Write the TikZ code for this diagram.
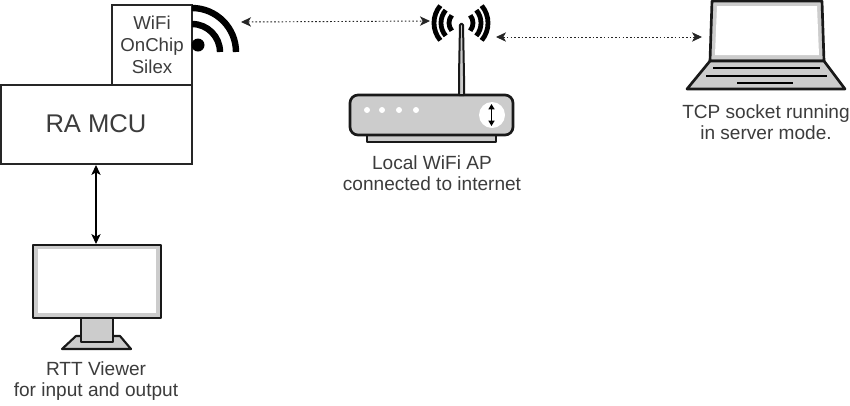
\documentclass[tikz,border=0pt]{standalone}
\usepackage{fontspec}
\setmainfont{Liberation Sans}
\usetikzlibrary{arrows.meta}
\definecolor{txt}{HTML}{3C3C3C}
\definecolor{icongray}{HTML}{CCCCCC}
\tikzset{
  x=0.75pt,y=-0.75pt,
  box/.style={draw=black!85,line width=1.2pt,fill=white,inner sep=0,minimum width=#1,text=txt},
  lab/.style={text=txt,align=center,inner sep=0,font=\fontsize{14.3}{16}\selectfont},
  icon/.style={draw=black!90,line width=2pt,line join=round},
  tip/.style={{Stealth[length=7.5pt,width=7pt,inset=2pt]}-{Stealth[length=7.5pt,width=7pt,inset=2pt]}},
  link/.style={tip,draw=black!85,line width=0.7pt,dash pattern=on 1.2pt off 1.6pt},
  solidlink/.style={tip,draw=black,line width=0.8pt},
  wave/.style={line width=4.8pt,draw=black,line cap=butt},
  ripple/.style={line width=3.6pt,draw=black,line cap=butt}
}
\begin{document}
\begin{tikzpicture}
\useasboundingbox (0,0) rectangle (850,405);
\fill[white] (0,0) rectangle (850,405);
% boards
\draw[box] (112,5) rectangle (192,85);
\node[lab,font=\fontsize{14}{16.5}\selectfont] (chip) at (152,45) {WiFi\\OnChip\\Silex};
\draw[box] (1,85) rectangle (192,164);
\node[lab,font=\fontsize{19.2}{22}\selectfont] (mcutext) at (96,124) {RA MCU};
\coordinate (mcuS) at (96,165);
% wifi icon
\fill (198,45) circle[radius=6.5*0.75pt];
\draw[wave] (192,8) arc[start angle=-90,end angle=0,radius=44];
\draw[wave] (192,24) arc[start angle=-90,end angle=0,radius=28];
\coordinate (wifiE) at (241,22);
% router
\draw[icon,fill=icongray] (367,135) rectangle (496,142);
\draw[icon,fill=icongray] (350,103) arc[start angle=180,end angle=270,radius=8] -- (505,95) arc[start angle=270,end angle=360,radius=8] -- (513,127) arc[start angle=0,end angle=90,radius=8] -- (358,135) arc[start angle=90,end angle=180,radius=8] -- cycle;
\draw[icon,fill=icongray,line width=1.5pt] (459,95) -- (459,76) -- (460,25) arc[start angle=180,end angle=360,radius=1.5] -- (464,76) -- (464,95) -- cycle;
\foreach \px in {367,382,399,416} \fill[white] (\px,110) circle[radius=3*0.75pt];
\fill[white] (492,115) circle[radius=13*0.75pt];
\draw[{Stealth[length=4pt,width=4.5pt,inset=0pt]}-{Stealth[length=4pt,width=4.5pt,inset=0pt]},line width=1.3pt] (491.5,104) -- (491.5,126);
\foreach \r in {12,20,27}{
  \draw[ripple] (461,23) ++(140:\r) arc[start angle=140,end angle=220,radius=\r];
  \draw[ripple] (461,23) ++(40:\r) arc[start angle=40,end angle=-40,radius=\r];
}
\coordinate (apW) at (430,21);
\coordinate (apE) at (496,37);
\node[lab] (aplab) at (432,173.5) {Local WiFi AP\\connected to internet};
% laptop
\draw[icon,fill=icongray] (712,1) -- (822,1) -- (824,61) -- (710,61) -- cycle;
\fill[white] (717,6) -- (817,6) -- (819,55) -- (715,55) -- cycle;
\draw[icon,fill=icongray] (710,61) -- (824,61) -- (845,89) -- (687,89) -- cycle;
\draw[line width=1.5pt] (713,68) -- (820,68);
\draw[line width=1.7pt] (706,76) -- (827,76);
\draw[line width=2pt] (737,83) -- (793,83);
\coordinate (lapW) at (702,37);
\node[lab] (laplab) at (766,122) {TCP socket running\\in server mode.};
% monitor
\draw[icon,fill=icongray] (33,245) rectangle (161,318);
\fill[white] (38,249) rectangle (156,313);
\draw[icon,fill=icongray,line width=1.6pt] (62,349) -- (76,336) -- (120,336) -- (131,349) -- cycle;
\draw[icon,fill=icongray,line width=1.6pt] (81,318) rectangle (113,342);
\coordinate (monN) at (96,244);
\node[lab] (monlab) at (96,381) {RTT Viewer\\for input and output};
% connectors
\draw[solidlink] (mcuS) -- (monN);
\draw[link] (wifiE) -- (apW);
\draw[link] (apE) -- (lapW);
\end{tikzpicture}
\end{document}
